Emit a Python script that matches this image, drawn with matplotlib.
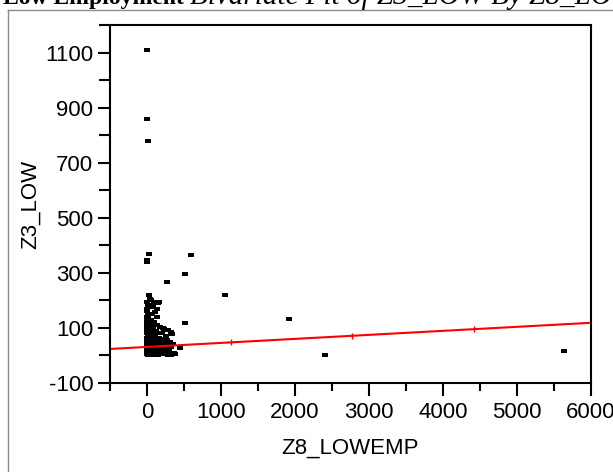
import matplotlib.pyplot as plt
from matplotlib.lines import Line2D

plt.rcParams["font.family"] = ["Liberation Sans", "DejaVu Sans"]
plt.rcParams["axes.unicode_minus"] = False

# Z8_LOWEMP (x) and Z3_LOW (y)
z8_lowemp = [
    0, 0, 10, 25, 0, 270, 600, 510, 25, 510, 1050, 1920, 2400, 5630, 450, 5,
    0, 10, 5, 0, 15, 0, 20, 5, 0, 10, 25, 0, 15, 5, 30, 0, 10, 20, 0, 5,
    25, 0, 15, 10, 0, 20, 5, 0, 30, 10, 0, 20, 40,
    60, 90, 120, 150, 80, 110, 130, 70, 60, 100, 140, 80, 170, 210, 60, 90,
    120, 150, 70, 110, 160, 50, 90, 130, 180, 60, 100, 140, 75, 120, 170, 55,
    95, 150, 200, 40, 80, 45, 100, 35, 130, 165, 185, 65,
    230, 200, 250, 290, 320, 340, 220, 270, 310, 240, 290, 330, 210, 260, 300,
    360, 230, 280, 380, 330, 190, 250, 350, 140, 60, 110,
]
z3_low = [
    1110, 860, 780, 370, 340, 265, 365, 295, 220, 118, 220, 132, 0, 15, 28, 347,
    195, 185, 170, 160, 150, 140, 135, 125, 115, 110, 105, 100, 95, 90, 85, 80,
    75, 70, 65, 60, 55, 50, 45, 40, 35, 30, 25, 20, 15, 10, 5, 0, 2,
    200, 195, 190, 192, 175, 158, 170, 150, 130, 120, 110, 105, 102, 100, 95,
    85, 90, 80, 75, 70, 65, 60, 55, 50, 45, 40, 35, 30, 25, 20, 15, 10,
    5, 3, 8, 62, 48, 205, 88, 178, 140, 195, 55, 118,
    95, 80, 70, 92, 85, 78, 60, 55, 48, 40, 35, 30, 25, 20, 15,
    10, 5, 2, 5, 0, 30, 65, 42, 0, 12, 0,
]

# linear fit shown in red
fit_intercept = 31.0
fit_slope = 0.0146
fit_x = [-500, 1138, 2776, 4414, 6000]

x_ticks = [0, 1000, 2000, 3000, 4000, 5000, 6000]
y_ticks = [-100, 100, 300, 500, 700, 900, 1100]

fig = plt.figure(figsize=(6.13, 4.72), dpi=100)
ax = fig.add_axes([110 / 613, 89 / 472, 481 / 613, 358 / 472])

rect = [(-1, -0.55), (1, -0.55), (1, 0.55), (-1, 0.55), (-1, -0.55)]
ax.plot(z8_lowemp, z3_low, linestyle="none", marker=rect, markersize=4.5,
        color="black", markeredgewidth=0)

fit_y = [fit_intercept + fit_slope * v for v in fit_x]
ax.plot(fit_x, fit_y, color="red", lw=1.5)
ax.plot(fit_x[1:-1], fit_y[1:-1], linestyle="none", marker="|",
        markersize=4, markeredgewidth=1, color="red")

ax.set_xlim(-500, 6000)
ax.set_ylim(-100, 1200)
ax.set_xticks(x_ticks)
ax.set_xticks([-500, 500, 1500, 2500, 3500, 4500, 5500], minor=True)
ax.set_yticks(y_ticks)
ax.set_yticks([0, 200, 400, 600, 800, 1000, 1200], minor=True)
ax.tick_params(which="major", length=9, width=1.5, labelsize=16)
ax.tick_params(axis="x", which="major", pad=5)
ax.tick_params(axis="y", which="major", pad=3)
ax.tick_params(axis="x", which="minor", length=5.5, width=1.5)
ax.tick_params(axis="y", which="minor", length=8, width=1.5)
for s in ax.spines.values():
    s.set_linewidth(1.5)

ax.set_xlabel("Z8_LOWEMP", fontsize=16, labelpad=10)
ax.set_ylabel("Z3_LOW", fontsize=16, labelpad=3)

# gray outline box of the report
fig.add_artist(Line2D([8 / 613, 8 / 613], [1 - 10 / 472, 0], color="#8a8a8a", lw=1))
fig.add_artist(Line2D([8 / 613, 1], [1 - 10 / 472, 1 - 10 / 472], color="#8a8a8a", lw=1))

# title, cut off at the top
fig.text(3 / 613, 1 - 4 / 472, "Low Employment", family="Liberation Serif",
         weight="bold", fontsize=17, va="baseline", ha="left")
fig.text(190 / 613, 1 - 4 / 472, "Bivariate Fit of Z3_LOW By Z8_LOWEMP",
         family="Liberation Serif", style="italic", fontsize=21,
         va="baseline", ha="left")

fig.savefig("out.png", dpi=100)
